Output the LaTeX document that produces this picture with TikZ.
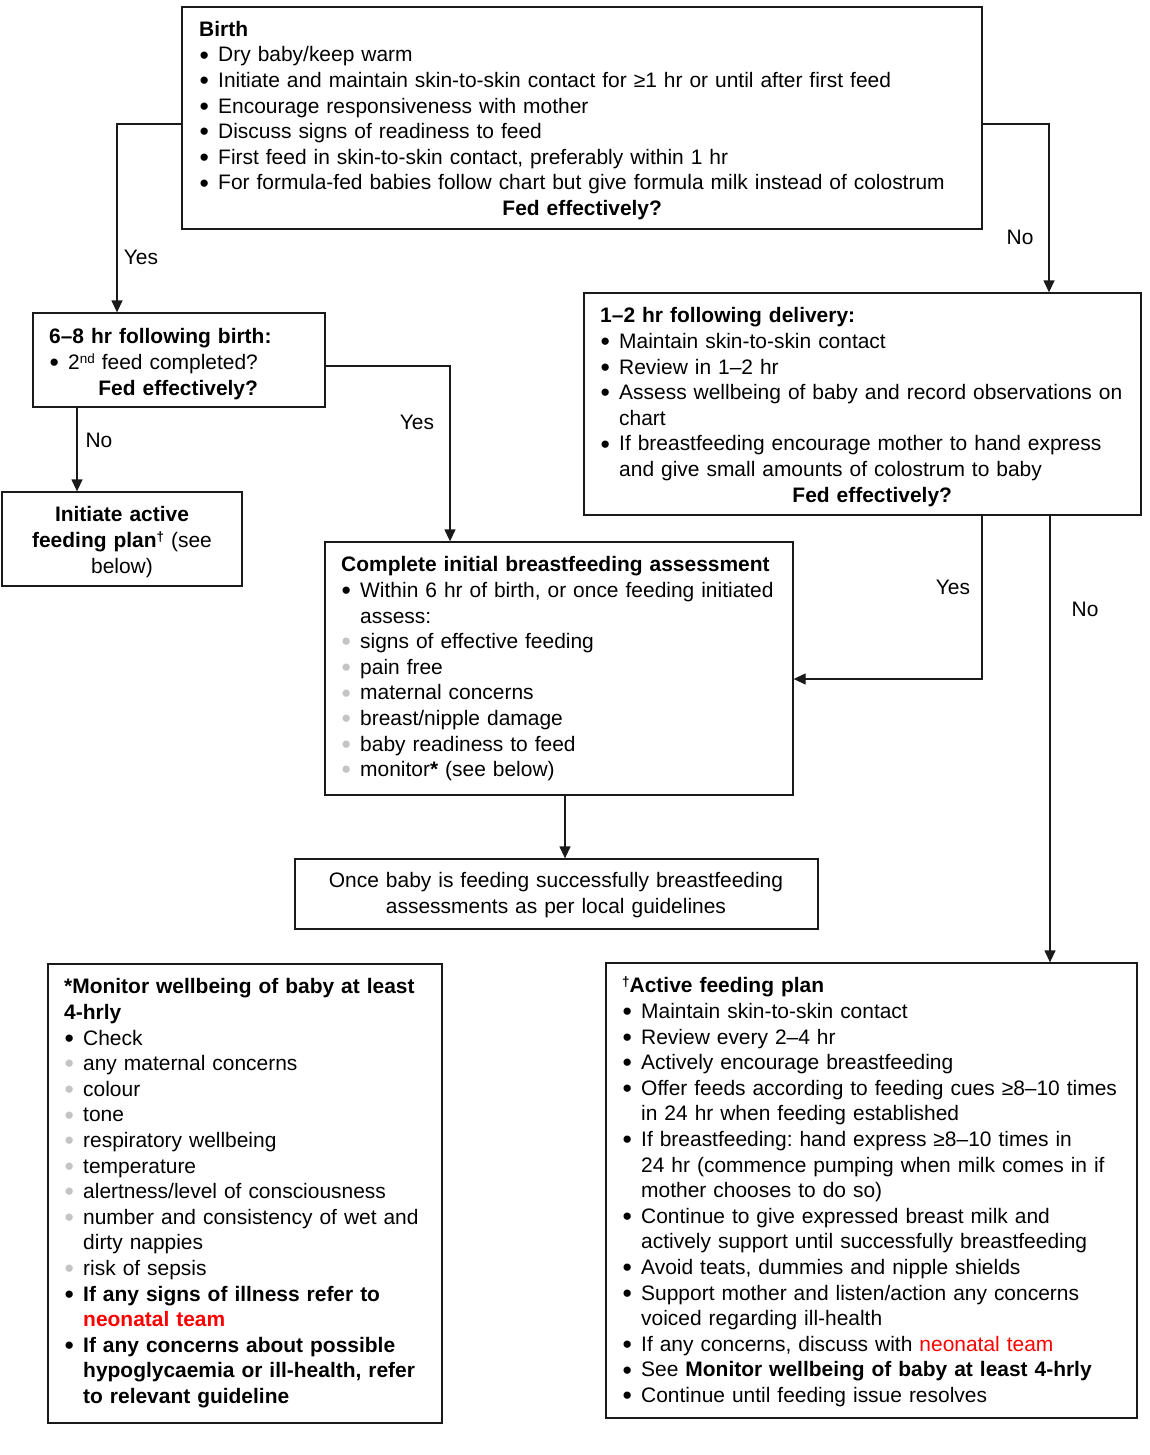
\documentclass[tikz,border=0pt]{standalone}
\usepackage{fontspec}
\setmainfont{Liberation Sans}
\usetikzlibrary{arrows.meta,fit}
\frenchspacing
\definecolor{bulgray}{HTML}{C4C4C4}
\definecolor{nred}{HTML}{FF0000}
\definecolor{edgec}{HTML}{1A1A1A}
\newcommand{\bigbul}{\raisebox{-2.2pt}{\scalebox{1.27}{\textbullet}}}
\newcommand{\mysup}[1]{\raisebox{0.3em}{\fontsize{13.5}{13.5}\selectfont #1}}
\newcommand{\Ln}[1]{\par\noindent\strut\mbox{#1}}
\newcommand{\Bl}[1]{\par\noindent\strut\makebox[19pt][l]{\hspace{0.5pt}\bigbul}\mbox{#1}}
\newcommand{\Gb}[1]{\par\noindent\strut\makebox[19pt][l]{\hspace{0.5pt}\textcolor{bulgray}{\bigbul}}\mbox{#1}}
\newcommand{\Cn}[1]{\par\noindent\strut\hspace*{19pt}\mbox{#1}}
\newcommand{\Cl}[1]{\par\noindent\makebox[\hsize][c]{\strut #1}}
\begin{document}
\begin{tikzpicture}[x=1pt,y=-1pt,
  box/.style={draw=edgec,line width=1.3pt,inner sep=0pt,rectangle},
  txt/.style={inner sep=0pt,anchor=north west,text width=#1,align=left,font=\fontsize{20.95}{25.6}\selectfont},
  ctxt/.style={inner sep=0pt,anchor=north,text width=#1,font=\fontsize{20.95}{25.6}\selectfont},
  lbl/.style={inner sep=0pt,font=\fontsize{20.95}{25.6}\selectfont},
  arr/.style={draw=edgec,line width=1.3pt,-{Triangle[length=12pt,width=11pt]}}]
\useasboundingbox[fill=white] (0,0) rectangle (1150,1455);
% boxes
\node[box,fit={(182,7) (982,229)}] (birth) {};
\node[box,fit={(33,313) (325,407)}] (six) {};
\node[box,fit={(2,492) (242,586)}] (init) {};
\node[box,fit={(584,293) (1141,515)}] (onetwo) {};
\node[box,fit={(325,542) (793,795)}] (complete) {};
\node[box,fit={(295,859) (818,929)}] (once) {};
\node[box,fit={(48,964) (442,1423)}] (monitor) {};
\node[box,fit={(606,963) (1137,1418)}] (active) {};
% texts
\node[txt=766pt] (birthtxt) at (199,10.5) {%
\Ln{\textbf{Birth}}
\Bl{Dry baby/keep warm}
\Bl{Initiate and maintain skin-to-skin contact for ≥1 hr or until after first feed}
\Bl{Encourage responsiveness with mother}
\Bl{Discuss signs of readiness to feed}
\Bl{First feed in skin-to-skin contact, preferably within 1 hr}
\Bl{For formula-fed babies follow chart but give formula milk instead of colostrum}
\Cl{\textbf{Fed effectively?}}};
\node[txt=258pt] (sixtxt) at (49,318) {%
\Ln{\textbf{6–8 hr following birth:}}
\Bl{2\mysup{nd} feed completed?}
\Cl{\textbf{Fed effectively?}}};
\node[ctxt=240pt] (inittxt) at (122,496) {%
\Cl{\textbf{Initiate active}}
\Cl{\textbf{feeding plan\mysup{†}} (see}
\Cl{below)}};
\node[txt=544pt] (onetwotxt) at (600,297) {%
\Ln{\textbf{1–2 hr following delivery:}}
\Bl{Maintain skin-to-skin contact}
\Bl{Review in 1–2 hr}
\Bl{Assess wellbeing of baby and record observations on}
\Cn{chart}
\Bl{If breastfeeding encourage mother to hand express}
\Cn{and give small amounts of colostrum to baby}
\Cl{\textbf{Fed effectively?}}};
\node[txt=440pt] (completetxt) at (341,546) {%
\Ln{\textbf{Complete initial breastfeeding assessment}}
\Bl{Within 6 hr of birth, or once feeding initiated}
\Cn{assess:}
\Gb{signs of effective feeding}
\Gb{pain free}
\Gb{maternal concerns}
\Gb{breast/nipple damage}
\Gb{baby readiness to feed}
\Gb{monitor\textbf{*} (see below)}};
\node[ctxt=520pt] (oncetxt) at (556,862) {%
\Cl{Once baby is feeding successfully breastfeeding}
\Cl{assessments as per local guidelines}};
\node[txt=370pt] (monitortxt) at (64,968) {%
\Ln{\textbf{*Monitor wellbeing of baby at least}}
\Ln{\textbf{4-hrly}}
\Bl{Check}
\Gb{any maternal concerns}
\Gb{colour}
\Gb{tone}
\Gb{respiratory wellbeing}
\Gb{temperature}
\Gb{alertness/level of consciousness}
\Gb{number and consistency of wet and}
\Cn{dirty nappies}
\Gb{risk of sepsis}
\Bl{\textbf{If any signs of illness refer to}}
\Cn{\textbf{\textcolor{nred}{neonatal team}}}
\Bl{\textbf{If any concerns about possible}}
\Cn{\textbf{hypoglycaemia or ill-health, refer}}
\Cn{\textbf{to relevant guideline}}};
\node[txt=500pt] (activetxt) at (622,967) {%
\Ln{\textbf{\mysup{†}Active feeding plan}}
\Bl{Maintain skin-to-skin contact}
\Bl{Review every 2–4 hr}
\Bl{Actively encourage breastfeeding}
\Bl{Offer feeds according to feeding cues ≥8–10 times}
\Cn{in 24 hr when feeding established}
\Bl{If breastfeeding: hand express ≥8–10 times in}
\Cn{24 hr (commence pumping when milk comes in if}
\Cn{mother chooses to do so)}
\Bl{Continue to give expressed breast milk and}
\Cn{actively support until successfully breastfeeding}
\Bl{Avoid teats, dummies and nipple shields}
\Bl{Support mother and listen/action any concerns}
\Cn{voiced regarding ill-health}
\Bl{If any concerns, discuss with \textcolor{nred}{neonatal team}}
\Bl{See \textbf{Monitor wellbeing of baby at least 4-hrly}}
\Bl{Continue until feeding issue resolves}};
% connectors
\draw[arr] ([yshift=-6pt]birth.west) -| ([xshift=-62pt]six.north);
\draw[arr] ([yshift=-6pt]birth.east) -| ([xshift=186.5pt]onetwo.north);
\draw[arr] ([yshift=-6pt]six.east) -| ([xshift=-109pt]complete.north);
\draw[arr] ([xshift=-102pt]six.south) -- ([xshift=-102pt]six.south |- init.north);
\draw[arr] ([xshift=119.5pt]onetwo.south) |- ([yshift=-10.5pt]complete.east);
\draw[arr] ([xshift=187.5pt]onetwo.south) -- ([xshift=187.5pt]onetwo.south |- active.north);
\draw[arr] ([xshift=6pt]complete.south) -- ([xshift=6pt]complete.south |- once.north);
% labels
\node[lbl] (yes1) at (141,257) {Yes};
\node[lbl] (no1) at (1020,237) {No};
\node[lbl] (yes2) at (417,422) {Yes};
\node[lbl] (no2) at (99,440) {No};
\node[lbl] (yes3) at (953,587) {Yes};
\node[lbl] (no3) at (1085,609) {No};
\end{tikzpicture}
\end{document}
